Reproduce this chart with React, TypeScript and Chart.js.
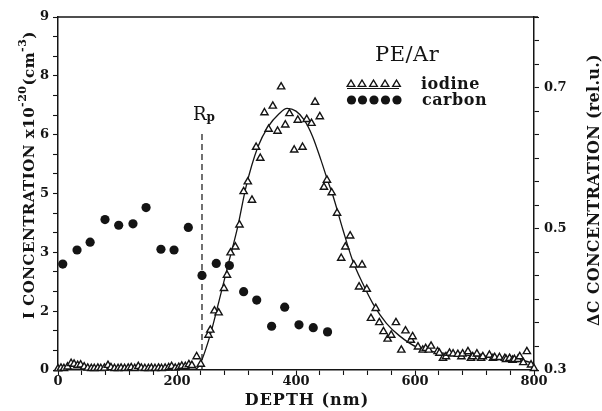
import React, { useEffect, useRef } from 'react';
import { Chart, registerables } from 'chart.js';

Chart.register(...registerables);

// ---------- data ----------
const iodineDepth = [
  0, 5, 10, 16, 22, 27, 33, 38, 44, 50, 56, 61, 67, 72, 78, 84, 89, 95, 101, 106,
  112, 118, 123, 129, 135, 140, 146, 152, 157, 163, 169, 174, 180, 186, 191, 197, 203, 208, 214, 220,
  225, 233, 240, 253, 256, 263, 270, 279, 284, 290, 298, 305, 312, 319, 326, 333, 340, 347, 354, 361,
  369, 375, 382, 389, 397, 403, 411, 418, 426, 432, 440, 447, 452, 460, 469, 476, 483, 491, 497, 506,
  511, 519, 526, 534, 540, 547, 554, 560, 568, 577, 584, 593, 596, 605, 613, 618, 623, 627, 638, 641,
  647, 652, 658, 664, 672, 678, 680, 689, 694, 697, 704, 711, 714, 725, 731, 734, 742, 751, 753, 759,
  764, 767, 773, 776, 782, 788, 795, 800,
];
const iodineConc = [
  0.03, 0.05, 0.04, 0.08, 0.17, 0.15, 0.12, 0.13, 0.08, 0.05, 0.04, 0.04, 0.05, 0.04, 0.05, 0.12, 0.06, 0.04, 0.04, 0.05,
  0.04, 0.05, 0.06, 0.04, 0.09, 0.05, 0.04, 0.04, 0.05, 0.04, 0.05, 0.04, 0.05, 0.06, 0.09, 0.05, 0.07, 0.1, 0.09, 0.14,
  0.12, 0.34, 0.15, 0.89, 1.02, 1.51, 1.46, 2.08, 2.42, 2.99, 3.14, 3.7, 4.55, 4.8, 4.33, 5.68, 5.4, 6.56, 6.14, 6.73,
  6.09, 7.22, 6.25, 6.54, 5.61, 6.37, 5.68, 6.39, 6.29, 6.83, 6.46, 4.66, 4.84, 4.52, 4.0, 2.85, 3.14, 3.42, 2.68, 2.12,
  2.68, 2.06, 1.32, 1.57, 1.21, 0.98, 0.79, 0.89, 1.21, 0.51, 1.0, 0.76, 0.85, 0.59, 0.51, 0.55, 0.51, 0.61, 0.47, 0.43,
  0.3, 0.34, 0.43, 0.41, 0.4, 0.34, 0.41, 0.47, 0.3, 0.34, 0.41, 0.3, 0.34, 0.38, 0.3, 0.32, 0.32, 0.3, 0.27, 0.3,
  0.25, 0.27, 0.27, 0.34, 0.19, 0.47, 0.13, 0.04,
];

const carbonDepth = [8, 32, 54, 79, 102, 126, 148, 173, 195, 219, 242, 266, 288, 312, 334, 359, 381, 405, 429, 453];
const carbonConc = [
  0.45, 0.47, 0.481, 0.513, 0.505, 0.507, 0.53, 0.471, 0.47, 0.502,
  0.434, 0.451, 0.448, 0.411, 0.399, 0.362, 0.389, 0.364, 0.36, 0.354,
];

const fitDepth = [
  0, 230, 238, 255, 271, 285, 302, 316, 336, 353, 372, 385, 400, 414, 428, 442, 453, 462, 479, 495,
  512, 529, 552, 574, 602, 630, 686, 742, 798, 800,
];
const fitConc = [
  0.02, 0.02, 0.13, 0.85, 1.78, 2.63, 3.65, 4.67, 5.69, 6.2, 6.54, 6.67, 6.6, 6.37, 5.95, 5.35, 4.84, 4.45, 3.57, 2.8,
  2.21, 1.7, 1.19, 0.87, 0.59, 0.47, 0.38, 0.32, 0.17, 0.15,
];

const rpDepth = [242, 242];
const rpConc = [0, 6.12];

const xTickValues = [0, 200, 400, 600, 800];
const xTickLabels = ['0', '200', '400', '600', '800'];
const leftTickValues = [0, 1.5, 3, 4.5, 6, 7.5, 9];
const leftTickLabels = ['0', '2', '3', '5', '6', '8', '9'];
const rightTickValues = [0.3, 0.5, 0.7];
const rightTickLabels = ['0.3', '0.5', '0.7'];

const xTitle = 'DEPTH (nm)';
const leftTitleParts = ['I CONCENTRATION x10', '-20', '(cm', '-3', ')'];
const rightTitle = 'ΔC CONCENTRATION (rel.u.)';
const legendTitle = 'PE/Ar';
const seriesNames = ['iodine', 'carbon'];
const rpLabel = ['R', 'p'];

// ---------- helpers ----------
const INK = '#141414';
const FAMILY = "'DejaVu Serif', serif";

function minorTicks(min: number, max: number, n: number) {
  const out: { value: number }[] = [];
  for (let i = 0; i <= n; i++) out.push({ value: min + ((max - min) * i) / n });
  return out;
}

function labelFor(v: number, vals: number[], labels: string[]) {
  for (let i = 0; i < vals.length; i++) if (Math.abs(v - vals[i]) < 1e-6) return labels[i];
  return '';
}

const textPlugin = {
  id: 'textPlugin',
  afterDraw(chart: any) {
    const ctx = chart.ctx as CanvasRenderingContext2D;
    const a = chart.chartArea;
    ctx.save();
    ctx.fillStyle = INK;
    ctx.strokeStyle = INK;

    // top frame line
    ctx.lineWidth = 1.3;
    ctx.beginPath();
    ctx.moveTo(a.left, a.top);
    ctx.lineTo(a.right + 4, a.top);
    ctx.stroke();

    // x title
    (ctx as any).letterSpacing = '1px';
    ctx.font = `bold 16px ${FAMILY}`;
    ctx.textAlign = 'center';
    ctx.textBaseline = 'alphabetic';
    ctx.fillText(xTitle, 307, 405);

    // left title (rotated, reading upward)
    ctx.save();
    ctx.translate(28, 175);
    ctx.rotate(-Math.PI / 2);
    (ctx as any).letterSpacing = '0.5px';
    const mainFont = `bold 15px ${FAMILY}`;
    const supFont = `bold 11px ${FAMILY}`;
    const fonts = [mainFont, supFont, mainFont, supFont, mainFont];
    const ys = [5.5, -2, 5.5, -2, 5.5];
    let total = 0;
    const widths = leftTitleParts.map((t, i) => {
      ctx.font = fonts[i];
      const w = ctx.measureText(t).width;
      total += w;
      return w;
    });
    let cx = -total / 2;
    ctx.textAlign = 'left';
    leftTitleParts.forEach((t, i) => {
      ctx.font = fonts[i];
      ctx.fillText(t, cx, ys[i]);
      cx += widths[i];
    });
    ctx.restore();

    // right title (rotated, reading upward)
    ctx.save();
    ctx.translate(593, 190);
    ctx.rotate(-Math.PI / 2);
    (ctx as any).letterSpacing = '0.3px';
    ctx.font = `bold 16px ${FAMILY}`;
    ctx.textAlign = 'center';
    ctx.fillText(rightTitle, 0, 6);
    ctx.restore();

    // R_p label
    (ctx as any).letterSpacing = '0px';
    ctx.textAlign = 'left';
    ctx.font = `18px ${FAMILY}`;
    ctx.fillText(rpLabel[0], 193, 120);
    const rw = ctx.measureText(rpLabel[0]).width;
    ctx.font = `bold 12px ${FAMILY}`;
    ctx.fillText(rpLabel[1], 193 + rw, 121);

    // legend block
    ctx.font = `21px ${FAMILY}`;
    (ctx as any).letterSpacing = '0.5px';
    ctx.textAlign = 'left';
    ctx.fillText(legendTitle, 375, 61);
    ctx.font = `bold 16px ${FAMILY}`;
    ctx.fillText(seriesNames[0], 421, 89);
    ctx.fillText(seriesNames[1], 422, 105);

    // legend markers
    const tri = [351, 362, 373.5, 385, 396.5];
    ctx.lineWidth = 1.4;
    tri.forEach((x) => {
      const r = 4;
      ctx.beginPath();
      ctx.moveTo(x, 84 - r);
      ctx.lineTo(x + r * 0.95, 84 + r * 0.6);
      ctx.lineTo(x - r * 0.95, 84 + r * 0.6);
      ctx.closePath();
      ctx.fillStyle = '#fff';
      ctx.fill();
      ctx.stroke();
    });
    ctx.fillStyle = INK;
    ctx.lineWidth = 1.2;
    ctx.beginPath();
    ctx.moveTo(347, 88.5);
    ctx.lineTo(399, 88.5);
    ctx.stroke();
    tri.forEach((x) => {
      ctx.beginPath();
      ctx.arc(x + 0.5, 100, 4.6, 0, Math.PI * 2);
      ctx.fill();
    });
    ctx.restore();
  },
};

export default function App() {
  const ref = useRef<HTMLCanvasElement | null>(null);

  useEffect(() => {
    if (!ref.current) return;
    const tickFont = { family: FAMILY, size: 13, weight: 'bold' as const };
    const grid = {
      drawOnChartArea: false,
      drawTicks: true,
      tickLength: 5,
      tickWidth: 1.1,
      tickColor: INK,
    };
    const border = { display: true, color: INK, width: 1.5 };

    const chart = new Chart(ref.current, {
      type: 'scatter',
      data: {
        datasets: [
          {
            label: 'fit',
            data: fitDepth.map((x, i) => ({ x, y: fitConc[i] })),
            showLine: true,
            borderColor: INK,
            borderWidth: 1.3,
            pointRadius: 0,
            cubicInterpolationMode: 'monotone',
            yAxisID: 'y',
            order: 3,
          },
          {
            label: 'Rp',
            data: rpDepth.map((x, i) => ({ x, y: rpConc[i] })),
            showLine: true,
            borderColor: INK,
            borderWidth: 1.2,
            borderDash: [6, 4],
            pointRadius: 0,
            yAxisID: 'y',
            order: 4,
          },
          {
            label: seriesNames[0],
            data: iodineDepth.map((x, i) => ({ x, y: iodineConc[i] })),
            pointStyle: 'triangle',
            pointRadius: 4.2,
            borderWidth: 1.4,
            borderColor: INK,
            backgroundColor: '#ffffff',
            yAxisID: 'y',
            order: 2,
            clip: 6,
          },
          {
            label: seriesNames[1],
            data: carbonDepth.map((x, i) => ({ x, y: carbonConc[i] })),
            pointStyle: 'circle',
            pointRadius: 4.6,
            borderWidth: 0,
            backgroundColor: INK,
            borderColor: INK,
            yAxisID: 'y2',
            order: 1,
          },
        ] as any,
      },
      options: {
        responsive: false,
        animation: false,
        layout: { padding: { top: 17, left: 0, right: 0, bottom: 0 } },
        plugins: {
          legend: { display: false },
          tooltip: { enabled: false },
          title: { display: false },
        },
        scales: {
          x: {
            type: 'linear',
            position: 'bottom',
            min: 0,
            max: 800,
            afterBuildTicks: (s: any) => {
              s.ticks = minorTicks(0, 800, 20);
            },
            afterFit: (s: any) => {
              s.height = 41;
            },
            grid,
            border,
            ticks: {
              autoSkip: false,
              maxRotation: 0,
              padding: -1,
              color: INK,
              font: tickFont,
              callback: (v: any) => labelFor(Number(v), xTickValues, xTickLabels),
            },
          },
          y: {
            type: 'linear',
            position: 'left',
            min: 0,
            max: 9,
            afterBuildTicks: (s: any) => {
              s.ticks = minorTicks(0, 9, 18);
            },
            afterFit: (s: any) => {
              s.width = 58;
            },
            grid,
            border,
            ticks: {
              autoSkip: false,
              padding: 4,
              color: INK,
              font: tickFont,
              callback: (v: any) => labelFor(Number(v), leftTickValues, leftTickLabels),
            },
          },
          y2: {
            type: 'linear',
            position: 'right',
            min: 0.3,
            max: 0.8,
            afterBuildTicks: (s: any) => {
              s.ticks = minorTicks(0.3, 0.8, 15);
            },
            afterFit: (s: any) => {
              s.width = 68;
            },
            grid,
            border,
            ticks: {
              autoSkip: false,
              padding: 5,
              color: INK,
              font: tickFont,
              callback: (v: any) => labelFor(Number(v), rightTickValues, rightTickLabels),
            },
          },
        },
      } as any,
      plugins: [textPlugin],
    });
    return () => chart.destroy();
  }, []);

  return (
    <div style={{ position: 'fixed', left: 0, top: 0, width: 602, height: 411, background: '#fff' }}>
      <canvas ref={ref} width={602} height={411} style={{ display: 'block', width: 602, height: 411 }} />
    </div>
  );
}
